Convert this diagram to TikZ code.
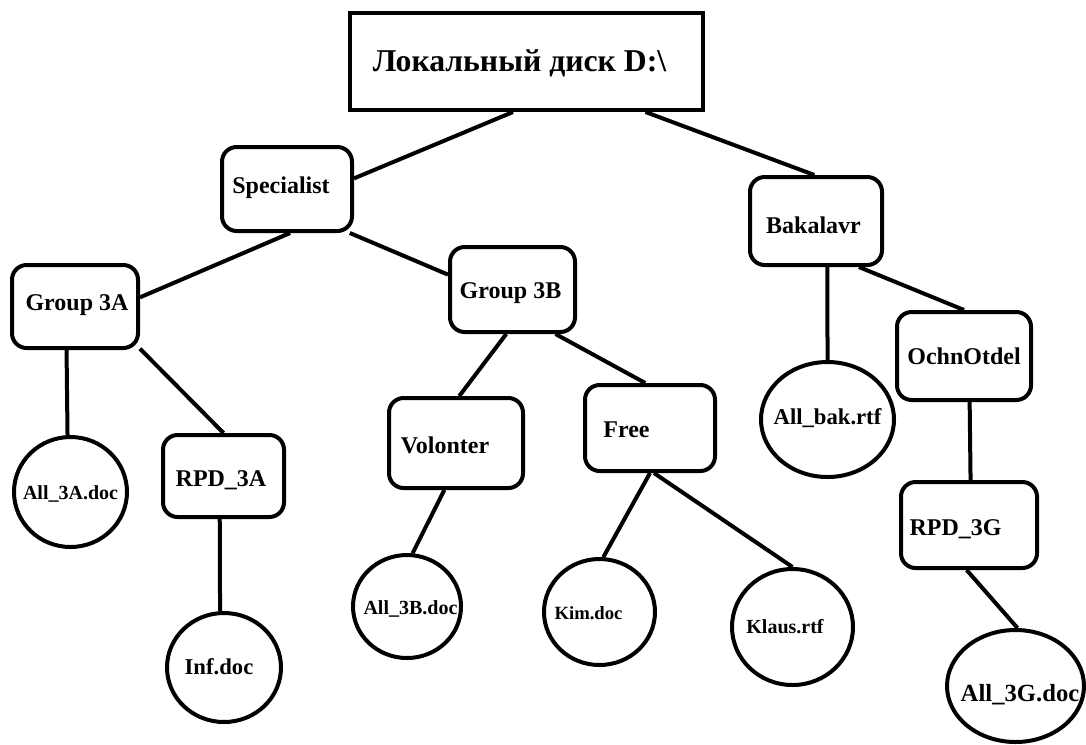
\documentclass[tikz,border=0pt]{standalone}
\usepackage{fontspec}
\setmainfont{Liberation Serif}
\usetikzlibrary{shapes.geometric}
\newcommand\tx[3]{\makebox[0pt]{\kern#1\raisebox{\dimexpr-0.33em-#2\relax}[0pt][0pt]{#3}}}
\begin{document}
\begin{tikzpicture}[x=0.75pt,y=-0.75pt,line width=3pt,
  folder/.style 2 args={draw, rectangle, rounded corners=11pt, inner sep=0pt,
    minimum width=#1*0.75pt, minimum height=#2*0.75pt,
    font=\bfseries\fontsize{18}{20}\selectfont},
  file/.style 2 args={draw, ellipse, inner sep=0pt,
    minimum width=#1*0.75pt, minimum height=#2*0.75pt},
  fs/.style={font=\bfseries\fontsize{#1}{#1}\selectfont}]
\useasboundingbox (0,0) rectangle (1086,744);
% root
\node[draw, rectangle, inner sep=0pt, minimum width=353*0.75pt, minimum height=97*0.75pt,
  font=\bfseries\fontsize{23.8}{26}\selectfont] (root) at (526.5,61.5)
  {\tx{-10.5pt}{0pt}{Локальный диск D:\textbackslash}};
% folders
\node[folder={130}{84}] (spec) at (287,189) {\tx{-9pt}{-2.25pt}{Specialist}};
\node[folder={126}{83}] (g3a) at (75,306.5) {\tx{3pt}{-2.6pt}{Group 3A}};
\node[folder={125}{85}] (g3b) at (512.5,289.5) {\tx{-3pt}{1.1pt}{Group 3B}};
\node[folder={132}{88}] (bak) at (816,221) {\tx{-3.75pt}{3.75pt}{Bakalavr}};
\node[folder={134}{88}] (ochn) at (964,356) {\tx{0pt}{0.75pt}{OchnOtdel}};
\node[folder={134}{90}] (vol) at (456,443) {\tx{-16.5pt}{2.25pt}{Volonter}};
\node[folder={130}{86}] (free) at (650,428) {\tx{-35.25pt}{1.5pt}{Free}};
\node[folder={121}{82}] (rpd3a) at (223.5,476) {\tx{-3.75pt}{2.25pt}{RPD\_3A}};
\node[folder={136}{86}] (rpd3g) at (969,525) {\tx{-20.25pt}{2.25pt}{RPD\_3G}};
% files
\node[file={113}{110}, fs=15] (all3a) at (70.5,492) {\tx{0pt}{0.75pt}{All\_3A.doc}};
\node[file={114}{109}, fs=17] (inf) at (224,667.5) {\tx{-7.5pt}{0pt}{Inf.doc}};
\node[file={108}{103}, fs=15] (all3b) at (407,606.5) {\tx{5.25pt}{1.1pt}{All\_3B.doc}};
\node[file={111}{106}, fs=14] (kim) at (599.5,612) {\tx{-16.5pt}{0.75pt}{Kim.doc}};
\node[file={121}{116}, fs=15] (klaus) at (792.5,627) {\tx{-11.25pt}{0pt}{Klaus.rtf}};
\node[file={133}{115}, fs=17] (allbak) at (827.5,419.5) {\tx{0pt}{-1.9pt}{All\_bak.rtf}};
\node[file={137}{112}, fs=18.5] (all3g) at (1015.5,686) {\tx{6.75pt}{5.25pt}{All\_3G.doc}};
% connectors
\draw (root.255.5) -- (spec.9.6);
\draw (root.337.6) -- (bak.92.6);
\draw (spec.274.1) -- (g3a.8.6);
\draw (spec.325.4) -- (g3b.167.8);
\draw (g3a.259.1) -- (all3a.93.6);
\draw (g3a.327.3) -- (rpd3a.90);
\draw (rpd3a.265.1) -- (inf.94.2);
\draw (g3b.262.6) -- (vol.86.2);
\draw (g3b.314.3) -- (free.96.6);
\draw (vol.256.3) -- (all3b.84.5);
\draw (free.270) -- (kim.86.2);
\draw (free.275.3) -- (klaus.90);
\draw (bak.284) -- (allbak.90);
\draw (bak.313) -- (ochn.90);
\draw (ochn.277.8) -- (rpd3g.88.7);
\draw (rpd3g.267.3) -- (all3g.88.5);
\end{tikzpicture}
\end{document}
